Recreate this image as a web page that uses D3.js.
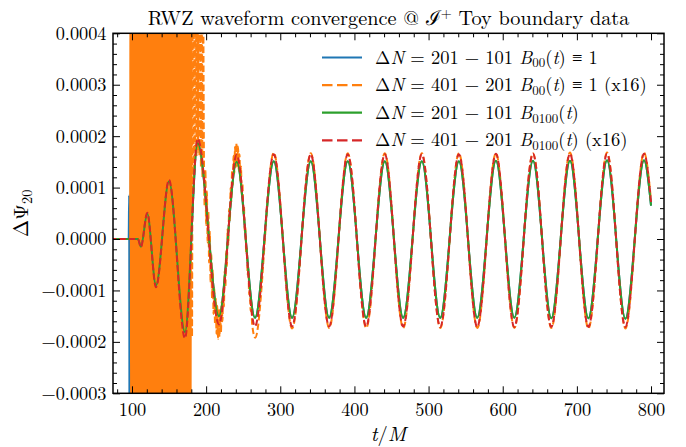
<!DOCTYPE html>
<html>
<head>
<meta charset="utf-8">
<script src="https://cdn.jsdelivr.net/npm/d3@7"></script>
<style>
  body { margin: 0; background: #fff; }
</style>
</head>
<body>
<svg id="chart" width="686" height="447"></svg>
<script>
// all waveform values are in units of 1e-4

// green: dN = 201-101, B0100(t)  (extrema)
const greenT = [70, 108, 112, 120.6, 132.4, 149.9, 171.5, 188.6, 217.3, 241.2,
  265.9, 291.2, 315.9, 341.1, 365.8, 391.0, 415.8, 441.0, 465.7, 490.9, 515.7,
  540.9, 565.6, 590.8, 615.6, 640.8, 665.5, 690.7, 715.5, 740.7, 765.4, 790.6, 800]
const greenV = [0, 0, -0.15, 0.49, -0.90, 1.12, -1.81, 1.86, -1.50, 1.50,
  -1.53, 1.51, -1.53, 1.51, -1.53, 1.51, -1.53, 1.51, -1.53, 1.51, -1.53,
  1.51, -1.53, 1.52, -1.53, 1.52, -1.54, 1.52, -1.54, 1.53, -1.55, 1.53, 0.65]

// red: dN = 401-201, B0100(t) (x16), same times as green
const redV = [0, 0, -0.16, 0.51, -0.94, 1.15, -1.93, 1.95, -1.66, 1.64,
  -1.70, 1.65, -1.70, 1.65, -1.70, 1.65, -1.70, 1.65, -1.70, 1.65, -1.71,
  1.65, -1.71, 1.66, -1.71, 1.66, -1.71, 1.66, -1.71, 1.66, -1.71, 1.66, 0.72]

// blue: dN = 201-101, B00 = 1 ; early spike + junk, later it sits on green
const blueEarlyT = [70, 95.5, 96.2, 96.8, 99.5, 101, 103, 105, 107, 110, 114, 118,
  122, 126, 130, 134, 138, 142, 146, 150, 154, 158, 162, 166, 168.5]
const blueEarlyV = [0, 0, 0.85, -6.5, 6.2, -6.0, 6.4, -5.8, 6.1, -6.3, 5.9, -6.2,
  6.0, -5.7, 6.3, -6.1, 5.8, -6.4, 6.2, -5.9, 6.1, -6.0, 5.7, -6.2, 5.4]

// orange: dN = 401-201, B00 = 1 (x16) ; noisy samples, one per unit of t from t=98
const orangeNoiseT0 = 98
const orangeNoise = [
  6.4, -6.1, 5.8, -6.6, 7.2, -5.7, 6.0, -6.9, 5.5, -6.3,
  6.8, -5.9, 7.4, -6.5, 5.9, -7.1, 6.2, -5.6, 7.0, -6.2,
  5.7, -6.8, 6.5, -5.8, 7.3, -6.4, 6.1, -7.0, 5.6, -6.0,
  6.9, -6.7, 5.8, -5.5, 7.1, -6.3, 6.3, -7.2, 5.9, -6.1,
  6.7, -5.8, 7.5, -6.6, 6.0, -6.9, 5.5, -6.2, 6.6, -5.7,
  7.0, -6.5, 6.2, -7.3, 5.8, -6.0, 6.9, -6.4, 6.1, -5.9,
  7.2, -6.8, 5.7, -6.1, 6.5, -5.6, 6.8, -6.3, 6.0,
  -4.2, 5.5, -3.9, 6.2, -4.4, 4.9, -3.6, 7.0, -4.0, 5.6, -3.5, 6.3, -3.8, 5.1, -1.9, 6.8,
  1.0, 7.2, 1.4, 5.8, 1.6, 8.0, 1.7, 6.1, 1.6, 5.0, 1.4, 6.4, 1.2, 4.6,
  1.69, 0.63, 1.35, 0.27, 0.93, -0.07, 0.54, -0.46, 0.14, -0.85,
  -0.28, -1.15, -0.61, -1.46, -0.95, -1.66, -1.16, -1.84, -1.30, -1.94,
  -1.36, -1.90, -1.37, -1.81, -1.22, -1.60, -0.97, -1.31, -0.63, -0.94,
  -0.24, -0.53, 0.19, -0.10, 0.59, 0.35, 0.99, 0.73, 1.34, 1.05,
  1.62, 1.28, 1.79, 1.40, 1.86, 1.43, 1.80, 1.33, 1.65, 1.14,
  1.41, 0.85, 1.08, 0.50, 0.65, 0.15, 0.24, -0.28, -0.19, -0.69,
  -0.59, -1.08, -0.95, -1.40, -1.23, -1.65]
const orangeLateT = [266.2, 291.2, 316.0, 341.1, 366.0, 391.0, 415.9, 441.0, 465.8,
  490.9, 515.8, 540.9, 565.7, 590.8, 615.7, 640.8, 665.6, 690.7, 715.6, 740.7,
  765.5, 790.6, 800]
const orangeLateV = [-1.92, 1.68, -1.74, 1.67, -1.73, 1.67, -1.73, 1.67, -1.73,
  1.67, -1.73, 1.67, -1.73, 1.67, -1.73, 1.67, -1.73, 1.68, -1.74, 1.68,
  -1.74, 1.68, 0.75]

const xTicks = [100, 200, 300, 400, 500, 600, 700, 800]
const yTicks = [-3e-4, -2e-4, -1e-4, 0, 1e-4, 2e-4, 3e-4, 4e-4]

const colors = { blue: '#1f77b4', orange: '#ff7f0e', green: '#2ca02c', red: '#d62728' }
const FONT = '"Latin Modern Roman", "CMU Serif", "Liberation Serif", serif'

const L = 113, R = 664, T = 33.3, B = 393.3
const svg = d3.select('#chart')

const x = d3.scaleLinear().domain([74.4, 817.5]).range([L, R])
const y = d3.scaleLinear().domain([-3e-4, 4e-4]).range([B, T])

svg.append('defs').append('clipPath').attr('id', 'plot')
  .append('rect').attr('x', L).attr('y', T).attr('width', R - L).attr('height', B - T)

const line = d3.line()
  .x(d => x(d[0]))
  .y(d => y(d[1] * 1e-4))
  .curve(d3.curveMonotoneX)

const orangeData = [[70, 0], [97.5, 0]]
  .concat(orangeNoise.map((v, i) => [orangeNoiseT0 + i, v]))
  .concat(d3.zip(orangeLateT, orangeLateV))

// the densest part of the orange junk overlaps into a solid band, so it is stroked solid
const series = [
  { data: d3.zip(blueEarlyT, blueEarlyV).concat(d3.zip(greenT.slice(6), greenV.slice(6))), color: colors.blue },
  { data: orangeData.filter(d => d[0] <= 180), color: colors.orange },
  { data: orangeData.filter(d => d[0] >= 180), color: colors.orange, dash: '6.5,3' },
  { data: d3.zip(greenT, greenV), color: colors.green },
  { data: d3.zip(greenT, redV), color: colors.red, dash: '6.5,3' }
]

const plot = svg.append('g').attr('clip-path', 'url(#plot)')
series.forEach(s => {
  plot.append('path')
    .datum(s.data)
    .attr('d', line)
    .attr('fill', 'none')
    .attr('stroke', s.color)
    .attr('stroke-width', 2)
    .attr('stroke-linejoin', 'round')
    .attr('stroke-dasharray', s.dash || null)
})

// axes, ticks pointing inward on all four sides
const xMinor = d3.range(80, 818, 20).filter(v => v % 100 !== 0)
const yMinor = d3.range(-30, 41, 2).filter(v => v % 10 !== 0).map(v => v * 1e-5)
const fmtY = d => d3.format('.4f')(d).replace('-', '\u2212')

function styleAxis(g) {
  g.select('.domain').remove()
  g.selectAll('.tick line').attr('stroke', '#000').attr('stroke-width', 1)
  g.attr('font-size', 18.3).attr('font-family', null)
}

svg.append('g').attr('transform', `translate(0,${B})`)
  .call(d3.axisBottom(x).tickValues(xTicks).tickSize(-7).tickPadding(9.5).tickFormat(d3.format('d')))
  .call(styleAxis)
svg.append('g').attr('transform', `translate(0,${B})`)
  .call(d3.axisBottom(x).tickValues(xMinor).tickSize(-4).tickFormat(''))
  .call(styleAxis)
svg.append('g').attr('transform', `translate(0,${T})`)
  .call(d3.axisTop(x).tickValues(xTicks).tickSize(-7).tickFormat(''))
  .call(styleAxis)
svg.append('g').attr('transform', `translate(0,${T})`)
  .call(d3.axisTop(x).tickValues(xMinor).tickSize(-4).tickFormat(''))
  .call(styleAxis)
svg.append('g').attr('transform', `translate(${L},0)`)
  .call(d3.axisLeft(y).tickValues(yTicks).tickSize(-7).tickPadding(6.5).tickFormat(fmtY))
  .call(styleAxis)
svg.append('g').attr('transform', `translate(${L},0)`)
  .call(d3.axisLeft(y).tickValues(yMinor).tickSize(-4).tickFormat(''))
  .call(styleAxis)
svg.append('g').attr('transform', `translate(${R},0)`)
  .call(d3.axisRight(y).tickValues(yTicks).tickSize(-7).tickFormat(''))
  .call(styleAxis)
svg.append('g').attr('transform', `translate(${R},0)`)
  .call(d3.axisRight(y).tickValues(yMinor).tickSize(-4).tickFormat(''))
  .call(styleAxis)

svg.append('rect')
  .attr('x', L).attr('y', T).attr('width', R - L).attr('height', B - T)
  .attr('fill', 'none').attr('stroke', '#000').attr('stroke-width', 1.5)

// text with simple math parts: [string, 'i' italic | 'sub' | 'sup']
function mathText(sel, parts) {
  parts.forEach(([s, k]) => {
    const t = sel.append('tspan').text(s)
    if (k === 'i') t.attr('font-style', 'italic')
    if (k === 'sub') t.attr('font-size', '0.7em').attr('dy', '0.3em')
    if (k === 'sup') t.attr('font-size', '0.7em').attr('dy', '-0.5em')
    if (k === 'after-sub') t.attr('dy', '-0.21em')
    if (k === 'after-sup') t.attr('dy', '0.35em')
  })
  return sel
}

const title = svg.append('text')
  .attr('x', (L + R) / 2).attr('y', 25)
  .attr('text-anchor', 'middle').attr('font-size', 20.3)
mathText(title, [['RWZ waveform convergence @ '], ['\u2110'], ['+', 'sup'], [' Toy boundary data', 'after-sup']])

const xl = svg.append('text')
  .attr('x', (L + R) / 2).attr('y', 441)
  .attr('text-anchor', 'middle').attr('font-size', 20.5)
mathText(xl, [['t', 'i'], ['/'], ['M', 'i']])

const yl = svg.append('text')
  .attr('transform', `translate(28,${(T + B) / 2}) rotate(-90)`)
  .attr('text-anchor', 'middle').attr('font-size', 20.5)
mathText(yl, [['\u0394\u03a8'], ['20', 'sub']])

// legend
const legendItems = [
  { color: colors.blue, parts: [['\u0394'], ['N', 'i'], [' = 201 \u2212 101 '], ['B', 'i'], ['00', 'sub'], ['(', 'after-sub'], ['t', 'i'], [') \u2261 1']] },
  { color: colors.orange, dash: '10.5,4.5', parts: [['\u0394'], ['N', 'i'], [' = 401 \u2212 201 '], ['B', 'i'], ['00', 'sub'], ['(', 'after-sub'], ['t', 'i'], [') \u2261 1 (x16)']] },
  { color: colors.green, parts: [['\u0394'], ['N', 'i'], [' = 201 \u2212 101 '], ['B', 'i'], ['0100', 'sub'], ['(', 'after-sub'], ['t', 'i'], [')']] },
  { color: colors.red, dash: '10.5,4.5', parts: [['\u0394'], ['N', 'i'], [' = 401 \u2212 201 '], ['B', 'i'], ['0100', 'sub'], ['(', 'after-sub'], ['t', 'i'], [') (x16)']] }
]
const lg = svg.append('g')
legendItems.forEach((it, i) => {
  const cy = 57.5 + i * 27.6
  lg.append('line')
    .attr('x1', 322).attr('x2', 362).attr('y1', cy).attr('y2', cy)
    .attr('stroke', it.color).attr('stroke-width', 2.2)
    .attr('stroke-dasharray', it.dash || null)
  const t = lg.append('text')
    .attr('x', 375).attr('y', cy + 6)
    .attr('font-size', 18.5)
  mathText(t, it.parts)
})

svg.selectAll('text').style('font-family', FONT).style('fill', '#000')
</script>
</body>
</html>
